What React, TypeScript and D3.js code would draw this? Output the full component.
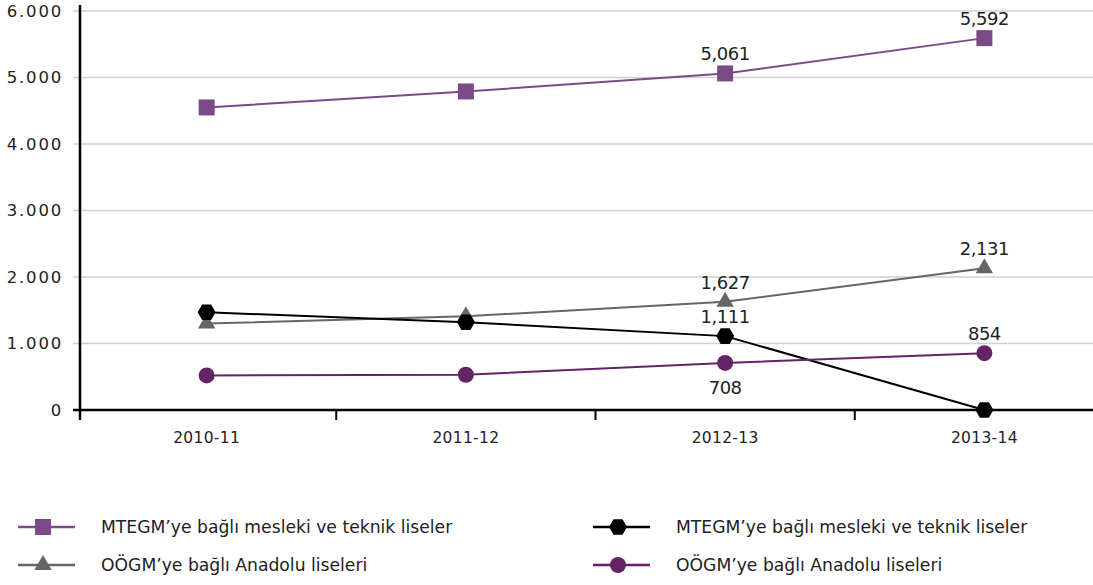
import React from "react";
import * as d3 from "d3";

const categories = ["2010-11", "2011-12", "2012-13", "2013-14"];
const mtegmSquare = [4550, 4790, 5061, 5592];
const oogmTriangle = [1300, 1410, 1627, 2131];
const mtegmHex = [1470, 1320, 1111, 0];
const oogmCircle = [520, 530, 708, 854];
const yTicks = [0, 1000, 2000, 3000, 4000, 5000, 6000];
const legendLabels = [
  "MTEGM’ye bağlı mesleki ve teknik liseler",
  "OÖGM’ye bağlı Anadolu liseleri",
  "MTEGM’ye bağlı mesleki ve teknik liseler",
  "OÖGM’ye bağlı Anadolu liseleri",
];

const W = 1093, H = 585;
const FONT = "'DejaVu Sans', sans-serif";

const x = d3.scaleBand().domain(categories).range([77, 1114]).padding(0);
const cx = (c: string) => (x(c) as number) + x.bandwidth() / 2;
const y = d3.scaleLinear().domain([0, 6000]).range([410, 11]);
const fmtTick = (v: number) => (v === 0 ? "0" : d3.format(",")(v).replace(/,/g, "."));
const fmtLbl = d3.format(",");

type Shape = "square" | "triangle" | "hex" | "circle";
function Marker({ shape, px, py, color }: { shape: Shape; px: number; py: number; color: string }) {
  if (shape === "square") return <rect x={px - 8} y={py - 8} width={16} height={16} fill={color} />;
  if (shape === "circle") return <circle cx={px} cy={py} r={8} fill={color} />;
  if (shape === "triangle") {
    const p = d3.symbol().type(d3.symbolTriangle).size(130)();
    return <path d={p as string} transform={`translate(${px},${py})`} fill={color} />;
  }
  const pts = d3.range(6).map((i) => {
    const a = (Math.PI / 3) * i;
    return [px + 9 * Math.cos(a), py + 9 * Math.sin(a)];
  });
  return <polygon points={pts.map((p) => p.join(",")).join(" ")} fill={color} />;
}

const series = [
  { data: mtegmSquare, color: "#7b4b87", shape: "square" as Shape, labels: [false, false, true, true], below: [false, false, false, false], width: 2 },
  { data: oogmTriangle, color: "#666666", shape: "triangle" as Shape, labels: [false, false, true, true], below: [false, false, false, false], width: 2 },
  { data: mtegmHex, color: "#000000", shape: "hex" as Shape, labels: [false, false, true, false], below: [false, false, false, false], width: 2 },
  { data: oogmCircle, color: "#652265", shape: "circle" as Shape, labels: [false, false, true, true], below: [false, false, true, false], width: 2 },
];

export default function App() {
  const line = d3.line<number>().x((_, i) => cx(categories[i])).y((d) => y(d));
  const legendPos = [
    { x0: 18, y0: 527 },
    { x0: 18, y0: 565 },
    { x0: 593, y0: 527 },
    { x0: 593, y0: 565 },
  ];
  return (
    <svg width={W} height={H} style={{ display: "block", position: "absolute", left: 0, top: 0 }} fontFamily={FONT}>
      <rect width={W} height={H} fill="#fff" />
      {yTicks.map((t) => (
        <g key={t}>
          {t > 0 && <line x1={73} x2={W} y1={y(t)} y2={y(t)} stroke="#d0d0d0" strokeWidth={1.5} />}
          <text x={63} y={y(t)} dy="0.36em" textAnchor="end" fontSize={16.5} letterSpacing={1.8} fill="#222">{fmtTick(t)}</text>
        </g>
      ))}
      <line x1={80} x2={80} y1={5} y2={420} stroke="#000" strokeWidth={2.5} />
      <line x1={73} x2={W} y1={410} y2={410} stroke="#000" strokeWidth={2.5} />
      {categories.slice(1).map((c) => (
        <line key={c} x1={x(c) as number} x2={x(c) as number} y1={410} y2={420} stroke="#000" strokeWidth={2} />
      ))}
      {categories.map((c) => (
        <text key={c} x={cx(c)} y={443} textAnchor="middle" fontSize={15.5} letterSpacing={0.3} fill="#222">{c}</text>
      ))}
      {series.map((s, si) => (
        <g key={si}>
          <path d={line(s.data) as string} fill="none" stroke={s.color} strokeWidth={s.width} />
          {s.data.map((v, i) => (
            <Marker key={i} shape={s.shape} px={cx(categories[i])} py={y(v)} color={s.color} />
          ))}
          {s.data.map((v, i) =>
            s.labels[i] ? (
              <text key={"l" + i} x={cx(categories[i])} y={s.below[i] ? y(v) + 31 : y(v) - 13} textAnchor="middle" fontSize={18} letterSpacing={-0.5} fill="#222">
                {fmtLbl(v)}
              </text>
            ) : null
          )}
        </g>
      ))}
      {series.map((s, i) => {
        const p = legendPos[i];
        return (
          <g key={i}>
            <line x1={p.x0} x2={p.x0 + 57} y1={p.y0} y2={p.y0} stroke={s.color} strokeWidth={2.5} />
            <Marker shape={s.shape} px={p.x0 + 25} py={p.y0} color={s.color} />
            <text x={p.x0 + 83} y={p.y0} dy="0.36em" fontSize={17.2} fill="#222">{legendLabels[i]}</text>
          </g>
        );
      })}
    </svg>
  );
}
